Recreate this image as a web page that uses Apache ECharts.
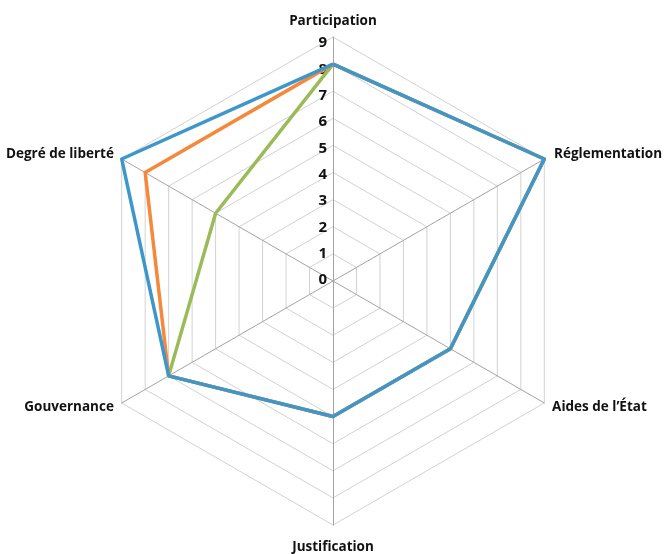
<!DOCTYPE html>
<html>
<head>
<meta charset="utf-8">
<script src="https://cdn.jsdelivr.net/npm/echarts@6/dist/echarts.min.js"></script>
<style>
  html, body { margin: 0; padding: 0; background: #fff; }
  #chart { width: 664px; height: 554px; }
</style>
</head>
<body>
<div id="chart"></div>
<script>
// Radar axes in ECharts order (counter-clockwise from the top)
const axes = ['Participation', 'Degré de liberté', 'Gouvernance', 'Justification', 'Aides de l\u2019État', 'Réglementation'];
const axisMax = 9;
const tickLabels = ['0', '1', '2', '3', '4', '5', '6', '7', '8', '9'];

// Three profiles, drawn green first so blue sits on top
const seriesGreen = [8, 5, 7, 5, 5, 9];
const seriesOrange = [8, 8, 7, 5, 5, 9];
const seriesBlue = [8, 9, 7, 5, 5, 9];

const colors = { green: '#9bbb59', orange: '#f5883b', blue: '#3e97cb' };
const FONT = "'Open Sans', 'DejaVu Sans', sans-serif";

const center = ['333px', '281px'];
const radius = 244;

const chart = echarts.init(document.getElementById('chart'), null, { renderer: 'canvas' });

function lineSeries(values, color, name) {
  return {
    type: 'radar',
    radarIndex: 0,
    symbol: 'none',
    silent: true,
    lineStyle: { color: color, width: 3.5 },
    data: [{ value: values, name: name }]
  };
}

const nameStyle = { color: '#111', fontFamily: FONT, fontWeight: 'bold', fontSize: 13.5 };

chart.setOption({
  animation: false,
  backgroundColor: '#ffffff',
  radar: {
    center: center,
    radius: radius,
    startAngle: 90,
    shape: 'polygon',
    splitNumber: axisMax,
    indicator: axes.map(n => ({ name: n, min: 0, max: axisMax })),
    axisName: Object.assign({}, nameStyle, {
      formatter: name => {
        if (name === 'Justification') return '{low|' + name + '}';
        if (name === 'Réglementation') return '{right|' + name + '}';
        return name;
      },
      rich: {
        low: Object.assign({}, nameStyle, { padding: [6, 0, 0, 0] }),
        right: Object.assign({}, nameStyle, { padding: [0, 0, 0, 2] })
      }
    }),
    nameGap: 9,
    axisLine: { lineStyle: { color: '#a3a3a3', width: 1 } },
    splitLine: { lineStyle: { color: '#d2d2d2', width: 1 } },
    splitArea: { show: false },
    axisTick: { show: false },
    axisLabel: { show: false }
  },
  // Polar overlay only used to print the 0–9 scale along the top axis
  polar: { center: ['333px', '280px'], radius: 237 },
  angleAxis: { show: false, startAngle: 90, min: 0, max: 360 },
  radiusAxis: {
    type: 'value',
    min: 0,
    max: axisMax,
    interval: 1,
    axisLine: { show: false },
    axisTick: { show: false },
    splitLine: { show: false },
    axisLabel: {
      show: true,
      color: '#111',
      fontFamily: FONT,
      fontWeight: 'bold',
      fontSize: 15,
      margin: 6,
      formatter: v => tickLabels[v] ?? ''
    }
  },
  series: [
    lineSeries(seriesGreen, colors.green, 'C'),
    lineSeries(seriesOrange, colors.orange, 'B'),
    lineSeries(seriesBlue, colors.blue, 'A')
  ]
});
</script>
</body>
</html>
